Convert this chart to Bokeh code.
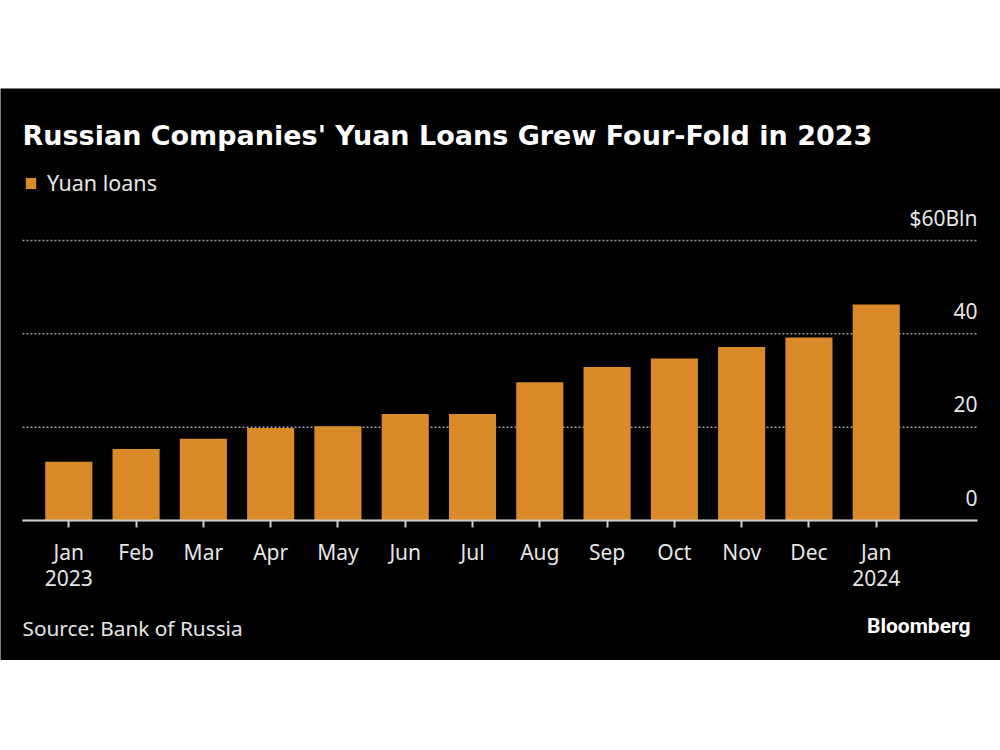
from bokeh.plotting import figure
from bokeh.models import (Range1d, FixedTicker, Label, Legend, LegendItem,
                          ColumnDataSource, Spacer)
from bokeh.layouts import column
from bokeh.core.properties import value
from bokeh.embed import file_html
from bokeh.resources import INLINE

months = ["Jan\n2023", "Feb", "Mar", "Apr", "May", "Jun", "Jul", "Aug",
          "Sep", "Oct", "Nov", "Dec", "Jan\n2024"]
loans = [12.6, 15.3, 17.5, 19.8, 20.2, 22.8, 22.8, 29.6, 32.9, 34.7, 37.2, 39.2, 46.3]
y_ticks = [0, 20, 40, 60]
y_tick_labels = ["0", "20", "40", "$60Bln"]

title_text = "Russian Companies' Yuan Loans Grew Four-Fold in 2023"
series_name = "Yuan loans"
source_text = "Source: Bank of Russia"
brand_text = "Bloomberg"

BG = "#000000"
BAR = "#DB8A2A"
TXT = "#E6E6E6"
FONT = "Noto Sans"

W, H = 1000, 572
xs = list(range(len(months)))
src = ColumnDataSource(dict(x=xs, top=loans))

# plot area spans from x=-0.688 to 13.505 (data); the frame covers the whole canvas
x_lo, x_hi = -0.688, len(months) - 1 + 1.505
px_per_x = 955.0 / (x_hi - x_lo)
px_per_y = 280.0 / 60.0
y_bottom = -(140.0 / px_per_y)
y_top = 432.0 / px_per_y

p = figure(width=W, height=H,
           min_border=0, min_border_left=0, min_border_right=0,
           min_border_top=0, min_border_bottom=0,
           x_range=Range1d(x_lo - 22 / px_per_x, x_hi + 23 / px_per_x),
           y_range=Range1d(y_bottom, y_top),
           y_axis_location=None,
           output_backend="svg", toolbar_location=None)
p.background_fill_color = BG
p.border_fill_color = BG
p.outline_line_color = None
p.xgrid.visible = False
p.ygrid.visible = False

# dotted gridlines across the plot area
p.segment(x0=[x_lo] * len(y_ticks), x1=[x_hi] * len(y_ticks), y0=y_ticks, y1=y_ticks,
          line_color="#A0A0A0", line_dash="2 2", line_width=1.5)

bars = p.vbar(x="x", top="top", width=0.70, source=src, color=BAR, line_color=None)

# x axis, pinned at y = 0 inside the frame
ax = p.xaxis[0]
ax.fixed_location = 0
ax.bounds = (x_lo, x_hi)
ax.ticker = FixedTicker(ticks=xs)
ax.major_label_overrides = {i: m for i, m in zip(xs, months)}
ax.axis_line_color = "#CFCFCF"
ax.axis_line_width = 2
ax.major_tick_line_color = "#CFCFCF"
ax.major_tick_line_width = 2
ax.major_tick_in = 0
ax.major_tick_out = 7
ax.minor_tick_line_color = None
ax.major_label_text_color = TXT
ax.major_label_text_font = FONT
ax.major_label_text_font_size = "21px"
ax.major_label_text_line_height = 0.95
ax.major_label_standoff = 10

# y labels on the right, above gridlines
p.text(x=[x_hi] * len(y_ticks), y=y_ticks, text=y_tick_labels,
       text_align="right", text_baseline="alphabetic", y_offset=-23,
       text_color=TXT, text_font=value(FONT), text_font_size="21px")

# title
p.add_layout(Label(x=22, y=525, x_units="screen", y_units="screen",
                   text=title_text, text_font="DejaVu Sans",
                   text_font_style="bold", text_font_size="27px",
                   text_color="#FFFFFF", text_baseline="alphabetic"))

# legend
legend = Legend(items=[LegendItem(label=series_name, renderers=[bars])],
                location=(24, 463), orientation="horizontal",
                glyph_width=13, glyph_height=14, label_standoff=10,
                padding=0, margin=0, spacing=0,
                background_fill_alpha=0, border_line_color=None,
                label_text_color=TXT, label_text_font=FONT,
                label_text_font_size="21.5px")
p.add_layout(legend, "center")

# footer
p.add_layout(Label(x=22, y=33, x_units="screen", y_units="screen",
                   text=source_text, text_font=FONT,
                   text_font_size="20.8px", text_color=TXT,
                   text_baseline="alphabetic"))
p.add_layout(Label(x=970, y=35, x_units="screen", y_units="screen",
                   text=brand_text, text_font="Roboto",
                   text_font_style="bold", text_font_size="21px",
                   text_color="#FFFFFF", text_align="right",
                   text_baseline="alphabetic"))

layout = column(Spacer(width=W, height=88), p)
open("out.html", "w").write(file_html(layout, INLINE))
